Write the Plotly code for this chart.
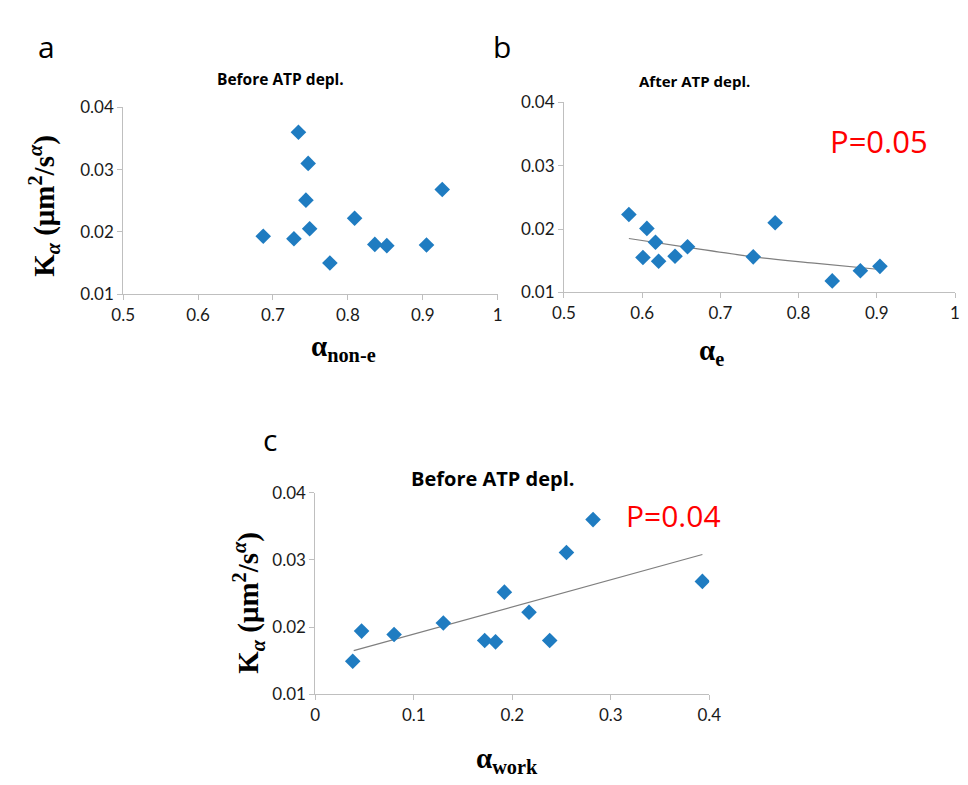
import plotly.graph_objects as go

W, H = 968, 785

# Panel a: before ATP depletion, alpha_non-e vs K_alpha
a_alpha = [0.687, 0.728, 0.734, 0.747, 0.744, 0.749, 0.776, 0.809, 0.836, 0.852, 0.905, 0.926]
a_K = [0.0193, 0.0189, 0.0360, 0.0310, 0.0251, 0.0205, 0.0150, 0.0222, 0.0180, 0.0178, 0.0179, 0.0268]

# Panel b: after ATP depletion, alpha_e vs K_alpha
b_alpha = [0.583, 0.606, 0.617, 0.601, 0.621, 0.642, 0.658, 0.742, 0.770, 0.843, 0.879, 0.904]
b_K = [0.0223, 0.0201, 0.0179, 0.0155, 0.0149, 0.0157, 0.0172, 0.0156, 0.0210, 0.0118, 0.0134, 0.0141]
b_trend_x = [0.583, 0.658, 0.742, 0.820, 0.904]
b_trend_y = [0.0185, 0.0171, 0.0156, 0.0146, 0.0136]

# Panel c: before ATP depletion, alpha_work vs K_alpha
c_alpha = [0.038, 0.047, 0.080, 0.130, 0.172, 0.183, 0.192, 0.217, 0.238, 0.255, 0.282, 0.393]
c_K = [0.0149, 0.0194, 0.0189, 0.0206, 0.0180, 0.0178, 0.0252, 0.0222, 0.0180, 0.0311, 0.0360, 0.0268]
c_trend_x = [0.039, 0.393]
c_trend_y = [0.0165, 0.0308]

x_ticks_ab = [0.5, 0.6, 0.7, 0.8, 0.9, 1]
x_ticks_c = [0, 0.1, 0.2, 0.3, 0.4]
y_ticks = [0.01, 0.02, 0.03, 0.04]

BLUE = "#1f7cc1"
AX = "#bfbfbf"
TICKFONT = dict(family="Lato", size=17, color="#1a1a1a")


def px(x):
    return x / W


def py(y):
    return 1 - y / H


fig = go.Figure()
marker = dict(symbol="diamond", size=12, color=BLUE)

fig.add_trace(go.Scatter(x=a_alpha, y=a_K, mode="markers", marker=marker, xaxis="x", yaxis="y"))
fig.add_trace(go.Scatter(x=b_trend_x, y=b_trend_y, mode="lines", line=dict(color="#7f7f7f", width=1.2, shape="spline"),
                         xaxis="x2", yaxis="y2"))
fig.add_trace(go.Scatter(x=b_alpha, y=b_K, mode="markers", marker=marker, xaxis="x2", yaxis="y2"))
fig.add_trace(go.Scatter(x=c_trend_x, y=c_trend_y, mode="lines", line=dict(color="#7f7f7f", width=1.2),
                         xaxis="x3", yaxis="y3"))
fig.add_trace(go.Scatter(x=c_alpha, y=c_K, mode="markers", marker=marker, xaxis="x3", yaxis="y3"))


def xax(domain, rng, ticks, anchor):
    return dict(domain=domain, range=rng, tickvals=ticks, ticks="outside", ticklen=5, tickcolor=AX,
                showline=True, linecolor=AX, linewidth=1, showgrid=False, zeroline=False,
                tickfont=TICKFONT, anchor=anchor, fixedrange=True)


def yax(domain, anchor):
    return dict(domain=domain, range=[0.01, 0.04], tickvals=y_ticks, tickformat=".2f", ticks="outside",
                ticklen=5, tickcolor=AX, showline=True, linecolor=AX, linewidth=1, showgrid=False,
                zeroline=False, tickfont=TICKFONT, anchor=anchor, fixedrange=True)


fig.update_layout(
    width=W, height=H, margin=dict(l=0, r=0, t=0, b=0),
    paper_bgcolor="white", plot_bgcolor="white", showlegend=False,
    xaxis=xax([px(114), px(498)], [0.5, 1.0], x_ticks_ab, "y"),
    yaxis=yax([py(291), py(99)], "x"),
    xaxis2=xax([px(566), px(967)], [0.5, 1.0], x_ticks_ab, "y2"),
    yaxis2=yax([py(289), py(94)], "x2"),
    xaxis3=xax([px(311), px(715)], [0, 0.4], x_ticks_c, "y3"),
    yaxis3=yax([py(702), py(495)], "x3"),
)

ann = []


def text(x, y, t, size, family="Open Sans", color="black", angle=0, xanchor="center"):
    ann.append(dict(x=px(x), y=py(y), xref="paper", yref="paper", text=t, showarrow=False,
                    font=dict(family=family, size=size, color=color), textangle=angle,
                    xanchor=xanchor, yanchor="middle"))


# panel letters
text(35, 36, "a", 30)
text(502, 36, "b", 30)
text(265, 440, "c", 30)

# titles
text(275, 70, "<b>Before ATP depl.</b>", 15.5)
text(700, 72, "<b>After ATP depl.</b>", 15)
text(493, 480, "<b>Before ATP depl.</b>", 20)

# P values
text(889, 134, "P=0.05", 31, color="red")
text(678, 518, "P=0.04", 30, color="red")

ylab = "<b>K<sub><i>α</i></sub> (μm<sup>2</sup>/s<sup><i>α</i></sup>)</b>"
text(32, 200, ylab, 29, family="Liberation Serif", angle=-90)
text(242, 608, ylab, 29, family="Liberation Serif", angle=-90)

text(340, 346, "<b>α<sub>non-e</sub></b>", 29, family="Liberation Serif")
text(717, 350, "<b>α<sub>e</sub></b>", 29, family="Liberation Serif")
text(508, 770, "<b>α<sub>work</sub></b>", 29, family="Liberation Serif")

fig.update_layout(annotations=ann)
fig.write_html("out.html")
